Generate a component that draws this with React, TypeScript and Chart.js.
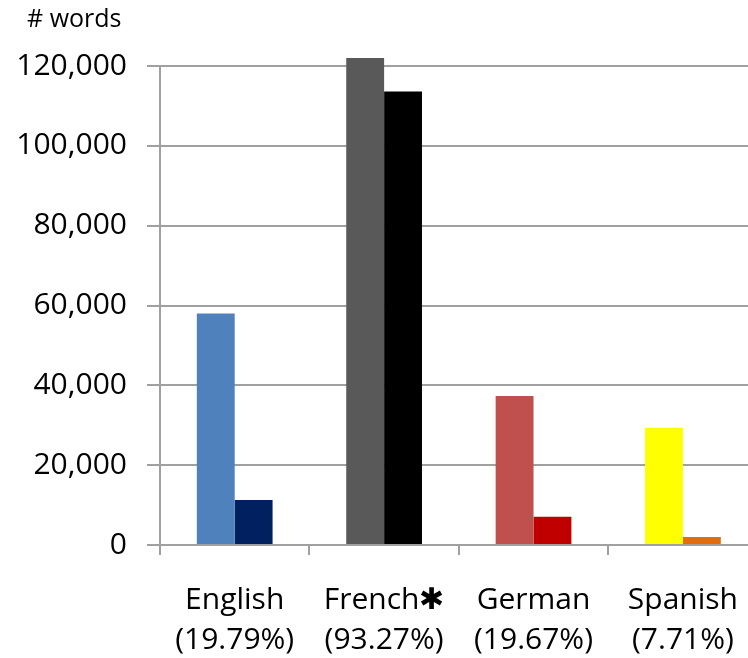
import React, { useEffect, useRef } from "react";
import { Chart, registerables } from "chart.js";

Chart.register(...registerables);

const languages = ["English", "French\u2731", "German", "Spanish"];
const percentages = ["(19.79%)", "(93.27%)", "(19.67%)", "(7.71%)"];
const seriesA = [58000, 122000, 37300, 29400];
const seriesB = [11300, 113600, 7100, 2000];
const colorsA = ["#4F81BD", "#595959", "#C0504D", "#FFFF00"];
const colorsB = ["#002060", "#000000", "#C00000", "#E46C0A"];
const yTicks = [0, 20000, 40000, 60000, 80000, 100000, 120000];
const yTitle = "# words";

const FONT = "'Open Sans', sans-serif";
const GRID = "#A0A0A0";

export default function App() {
  const ref = useRef<HTMLCanvasElement | null>(null);

  useEffect(() => {
    if (!ref.current) return;
    const titlePlugin = {
      id: "topTitle",
      afterDraw(chart: any) {
        const ctx = chart.ctx;
        ctx.save();
        ctx.font = `25px ${FONT}`;
        ctx.fillStyle = "#000";
        ctx.textAlign = "left";
        ctx.textBaseline = "alphabetic";
        ctx.fillText(yTitle, 27, 27);
        ctx.restore();
      },
    };
    const chart = new Chart(ref.current, {
      type: "bar",
      data: {
        labels: languages.map((l, i) => [l, percentages[i]]),
        datasets: [
          {
            label: "A",
            data: seriesA,
            backgroundColor: colorsA,
            borderWidth: 0,
            clip: false as any,
            categoryPercentage: 0.507,
            barPercentage: 1,
          },
          {
            label: "B",
            data: seriesB,
            backgroundColor: colorsB,
            borderWidth: 0,
            clip: false as any,
            categoryPercentage: 0.507,
            barPercentage: 1,
          },
        ],
      },
      options: {
        responsive: false,
        animation: false,
        layout: { padding: { top: 66, left: 0, right: 0, bottom: 0 } },
        plugins: {
          legend: { display: false },
          tooltip: { enabled: false },
          title: { display: false },
        },
        scales: {
          x: {
            offset: true,
            grid: {
              offset: true,
              drawOnChartArea: false,
              drawTicks: true,
              tickLength: 10,
              color: GRID,
              lineWidth: 2,
            },
            border: { display: true, color: GRID, width: 2 },
            ticks: {
              autoSkip: false,
              maxRotation: 0,
              minRotation: 0,
              padding: 26,
              color: "#000",
              font: { family: FONT, size: 30, lineHeight: 1.32 },
            },
            afterFit(scale: any) {
              scale.height = 113;
            },
          },
          y: {
            min: 0,
            max: 120000,
            afterBuildTicks(scale: any) {
              scale.ticks = yTicks.map((v) => ({ value: v }));
            },
            grid: {
              color: GRID,
              lineWidth: 2,
              drawTicks: true,
              tickLength: 13,
            },
            border: { display: true, color: GRID, width: 2 },
            ticks: {
              padding: 20,
              color: "#000",
              font: { family: FONT, size: 30 },
              callback: (v: any) => Number(v).toLocaleString("en-US"),
            },
            afterFit(scale: any) {
              scale.width = 160;
            },
          },
        },
      },
      plugins: [titlePlugin],
    });
    return () => chart.destroy();
  }, []);

  return (
    <div
      style={{
        position: "absolute",
        left: 0,
        top: 0,
        width: 748,
        height: 658,
        overflow: "hidden",
        background: "#fff",
      }}
    >
      <canvas ref={ref} width={764} height={658} style={{ display: "block" }} />
    </div>
  );
}
